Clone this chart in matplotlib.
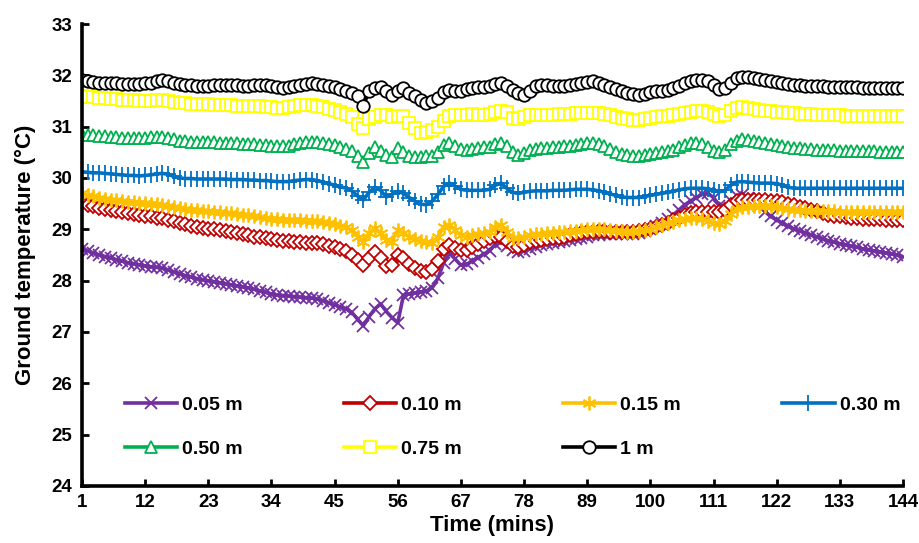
import matplotlib.pyplot as plt
import numpy as np

plt.rcParams['font.family'] = ['Liberation Sans', 'DejaVu Sans']
plt.rcParams['font.weight'] = 'bold'

# minutes 1..144
minutes = np.arange(1, 145)

depth_labels = ['0.05 m', '0.10 m', '0.15 m', '0.30 m', '0.50 m', '0.75 m', '1 m']

t_005 = [28.62, 28.58, 28.54, 28.50, 28.47, 28.44, 28.41, 28.38, 28.35, 28.33, 28.31, 28.29,
         28.27, 28.26, 28.24, 28.21, 28.17, 28.13, 28.10, 28.07, 28.04, 28.02, 28.00, 27.98,
         27.96, 27.94, 27.92, 27.90, 27.88, 27.86, 27.83, 27.80, 27.77, 27.74, 27.72, 27.71,
         27.70, 27.69, 27.68, 27.67, 27.66, 27.64, 27.61, 27.57, 27.53, 27.49, 27.45, 27.38,
         27.25, 27.12, 27.30, 27.45, 27.55, 27.40, 27.28, 27.18, 27.72, 27.74, 27.76, 27.78,
         27.80, 27.86, 28.05, 28.35, 28.54, 28.42, 28.30, 28.32, 28.38, 28.45, 28.52, 28.58,
         28.72, 28.75, 28.68, 28.60, 28.56, 28.58, 28.62, 28.66, 28.70, 28.72, 28.74, 28.76,
         28.78, 28.80, 28.82, 28.84, 28.86, 28.88, 28.89, 28.90, 28.90, 28.90, 28.90, 28.90,
         28.91, 28.93, 28.96, 29.00, 29.06, 29.12, 29.20, 29.28, 29.38, 29.48, 29.55, 29.62,
         29.68, 29.70, 29.62, 29.46, 29.42, 29.55, 29.65, 29.66, 29.62, 29.56, 29.46, 29.34,
         29.25, 29.18, 29.12, 29.06, 29.01, 28.97, 28.93, 28.89, 28.85, 28.81, 28.78, 28.75,
         28.72, 28.70, 28.67, 28.65, 28.62, 28.60, 28.58, 28.56, 28.54, 28.52, 28.50, 28.47]

t_010 = [29.52, 29.48, 29.45, 29.42, 29.40, 29.37, 29.35, 29.33, 29.31, 29.29, 29.27, 29.26,
         29.25, 29.23, 29.22, 29.19, 29.16, 29.13, 29.10, 29.07, 29.05, 29.03, 29.01, 29.00,
         28.98, 28.96, 28.94, 28.92, 28.90, 28.88, 28.86, 28.85, 28.83, 28.81, 28.80, 28.78,
         28.77, 28.76, 28.75, 28.74, 28.74, 28.73, 28.71, 28.68, 28.65, 28.61, 28.57, 28.50,
         28.40, 28.31, 28.45, 28.55, 28.45, 28.28, 28.30, 28.50, 28.45, 28.33, 28.24, 28.18,
         28.17, 28.22, 28.38, 28.62, 28.70, 28.64, 28.60, 28.60, 28.65, 28.72, 28.78, 28.83,
         28.87, 28.86, 28.78, 28.68, 28.66, 28.70, 28.75, 28.78, 28.80, 28.82, 28.83, 28.84,
         28.86, 28.88, 28.90, 28.92, 28.94, 28.95, 28.96, 28.96, 28.95, 28.95, 28.95, 28.95,
         28.95, 28.96, 28.98, 29.00, 29.04, 29.08, 29.13, 29.18, 29.23, 29.28, 29.32, 29.34,
         29.34, 29.34, 29.34, 29.33, 29.38, 29.48, 29.56, 29.58, 29.58, 29.58, 29.58, 29.57,
         29.56, 29.55, 29.53, 29.50, 29.47, 29.44, 29.41, 29.38, 29.35, 29.31, 29.28, 29.26,
         29.25, 29.24, 29.23, 29.22, 29.21, 29.21, 29.20, 29.20, 29.19, 29.19, 29.18, 29.18]

t_015 = [29.70, 29.67, 29.64, 29.62, 29.60, 29.58, 29.57, 29.55, 29.54, 29.53, 29.52, 29.51,
         29.50, 29.49, 29.48, 29.46, 29.44, 29.42, 29.40, 29.38, 29.37, 29.36, 29.35, 29.34,
         29.33, 29.32, 29.31, 29.29, 29.28, 29.27, 29.25, 29.24, 29.22, 29.21, 29.20, 29.19,
         29.19, 29.19, 29.18, 29.17, 29.17, 29.16, 29.14, 29.12, 29.10, 29.07, 29.04, 28.98,
         28.86, 28.76, 28.92, 29.03, 28.92, 28.80, 28.76, 28.98, 28.92, 28.86, 28.82, 28.78,
         28.76, 28.74, 28.86, 29.05, 29.09, 28.98, 28.88, 28.86, 28.88, 28.90, 28.92, 28.94,
         29.05, 29.09, 28.95, 28.84, 28.83, 28.85, 28.88, 28.90, 28.91, 28.92, 28.93, 28.94,
         28.95, 28.96, 28.97, 28.98, 29.00, 29.01, 29.01, 29.00, 28.99, 28.97, 28.96, 28.95,
         28.95, 28.96, 28.98, 29.00, 29.04, 29.08, 29.12, 29.15, 29.18, 29.21, 29.23, 29.22,
         29.20, 29.17, 29.12, 29.10, 29.16, 29.30, 29.40, 29.43, 29.44, 29.45, 29.45, 29.45,
         29.45, 29.44, 29.42, 29.40, 29.38, 29.37, 29.36, 29.36, 29.35, 29.35, 29.35, 29.35,
         29.34, 29.34, 29.34, 29.34, 29.34, 29.34, 29.34, 29.34, 29.34, 29.34, 29.34, 29.34]

t_030 = [30.12, 30.11, 30.10, 30.10, 30.09, 30.08, 30.07, 30.06, 30.05, 30.05, 30.04, 30.05,
         30.06, 30.08, 30.09, 30.07, 30.03, 30.00, 29.99, 29.99, 29.98, 29.98, 29.98, 29.98,
         29.98, 29.98, 29.97, 29.97, 29.97, 29.96, 29.96, 29.95, 29.95, 29.94, 29.93, 29.93,
         29.93, 29.95, 29.96, 29.97, 29.97, 29.95, 29.92, 29.89, 29.86, 29.83, 29.80, 29.75,
         29.65, 29.57, 29.72, 29.82, 29.76, 29.63, 29.68, 29.74, 29.70, 29.62, 29.55, 29.49,
         29.48, 29.55, 29.68, 29.84, 29.90, 29.84, 29.78, 29.76, 29.76, 29.76, 29.76, 29.78,
         29.86, 29.90, 29.80, 29.72, 29.70, 29.72, 29.74, 29.75, 29.75, 29.75, 29.76, 29.76,
         29.76, 29.77, 29.78, 29.78, 29.78, 29.77, 29.75, 29.72, 29.69, 29.66, 29.63, 29.62,
         29.62, 29.62, 29.64, 29.66, 29.68, 29.70, 29.72, 29.74, 29.77, 29.79, 29.80, 29.80,
         29.80, 29.79, 29.76, 29.73, 29.76, 29.86, 29.92, 29.93, 29.92, 29.91, 29.90, 29.90,
         29.90, 29.89, 29.86, 29.82, 29.80, 29.80, 29.80, 29.80, 29.80, 29.80, 29.80, 29.80,
         29.80, 29.80, 29.80, 29.80, 29.80, 29.80, 29.80, 29.80, 29.80, 29.80, 29.80, 29.80]

t_050 = [30.86, 30.84, 30.83, 30.82, 30.81, 30.80, 30.79, 30.78, 30.78, 30.77, 30.77, 30.78,
         30.79, 30.80, 30.79, 30.77, 30.75, 30.73, 30.72, 30.71, 30.70, 30.70, 30.70, 30.70,
         30.69, 30.69, 30.68, 30.68, 30.67, 30.66, 30.66, 30.65, 30.64, 30.63, 30.62, 30.62,
         30.63, 30.66, 30.68, 30.70, 30.71, 30.70, 30.68, 30.66, 30.64, 30.61, 30.57, 30.52,
         30.42, 30.32, 30.48, 30.60, 30.52, 30.45, 30.40, 30.58, 30.50, 30.42, 30.40, 30.41,
         30.42, 30.43, 30.50, 30.65, 30.69, 30.62, 30.56, 30.55, 30.57, 30.59, 30.60, 30.60,
         30.66, 30.69, 30.62, 30.50, 30.45, 30.48, 30.54, 30.57, 30.58, 30.59, 30.60, 30.61,
         30.62, 30.63, 30.64, 30.66, 30.68, 30.69, 30.67, 30.62, 30.56, 30.50, 30.46, 30.44,
         30.43, 30.43, 30.45, 30.47, 30.49, 30.50, 30.52, 30.55, 30.60, 30.65, 30.68, 30.69,
         30.66, 30.60, 30.52, 30.50, 30.54, 30.66, 30.73, 30.75, 30.74, 30.72, 30.70, 30.68,
         30.66, 30.65, 30.63, 30.61, 30.59, 30.58, 30.57, 30.56, 30.55, 30.55, 30.54, 30.54,
         30.53, 30.53, 30.53, 30.52, 30.52, 30.52, 30.52, 30.51, 30.51, 30.51, 30.51, 30.51]

t_075 = [31.60, 31.58, 31.57, 31.56, 31.55, 31.54, 31.53, 31.52, 31.52, 31.51, 31.50, 31.50,
         31.50, 31.51, 31.52, 31.50, 31.48, 31.47, 31.46, 31.45, 31.45, 31.44, 31.44, 31.43,
         31.43, 31.42, 31.42, 31.41, 31.41, 31.40, 31.40, 31.40, 31.39, 31.38, 31.37, 31.37,
         31.38, 31.40, 31.42, 31.43, 31.43, 31.41, 31.38, 31.35, 31.32, 31.28, 31.24, 31.18,
         31.05, 30.98, 31.15, 31.18, 31.22, 31.23, 31.18, 31.20, 31.20, 31.08, 30.98, 30.88,
         30.90, 30.94, 31.00, 31.12, 31.20, 31.22, 31.22, 31.23, 31.24, 31.23, 31.23, 31.24,
         31.28, 31.31, 31.28, 31.16, 31.14, 31.18, 31.22, 31.23, 31.22, 31.22, 31.23, 31.24,
         31.24, 31.25, 31.26, 31.26, 31.27, 31.27, 31.26, 31.24, 31.22, 31.19, 31.16, 31.14,
         31.13, 31.13, 31.15, 31.17, 31.19, 31.20, 31.21, 31.23, 31.25, 31.27, 31.29, 31.30,
         31.30, 31.28, 31.24, 31.20, 31.22, 31.30, 31.36, 31.38, 31.37, 31.35, 31.33, 31.31,
         31.30, 31.29, 31.28, 31.27, 31.26, 31.25, 31.24, 31.24, 31.23, 31.23, 31.22, 31.22,
         31.22, 31.21, 31.21, 31.21, 31.21, 31.20, 31.20, 31.20, 31.20, 31.20, 31.20, 31.20]

t_100 = [31.90, 31.88, 31.87, 31.86, 31.86, 31.85, 31.85, 31.84, 31.84, 31.83, 31.84, 31.85,
         31.86, 31.88, 31.90, 31.88, 31.85, 31.83, 31.82, 31.81, 31.80, 31.80, 31.80, 31.81,
         31.81, 31.82, 31.82, 31.81, 31.80, 31.80, 31.81, 31.82, 31.81, 31.79, 31.77, 31.76,
         31.77, 31.79, 31.81, 31.83, 31.85, 31.84, 31.82, 31.80, 31.77, 31.73, 31.70, 31.66,
         31.60, 31.40, 31.70, 31.76, 31.78, 31.70, 31.62, 31.70, 31.76, 31.66, 31.60, 31.52,
         31.47, 31.50, 31.56, 31.68, 31.72, 31.70, 31.70, 31.73, 31.76, 31.77, 31.78, 31.79,
         31.84, 31.86, 31.80, 31.72, 31.66, 31.62, 31.70, 31.80, 31.82, 31.81, 31.80, 31.80,
         31.80, 31.82, 31.83, 31.85, 31.87, 31.88, 31.86, 31.82, 31.78, 31.74, 31.70, 31.66,
         31.63, 31.62, 31.64, 31.68, 31.70, 31.70, 31.72, 31.75, 31.80, 31.85, 31.88, 31.90,
         31.90, 31.88, 31.82, 31.74, 31.76, 31.86, 31.94, 31.97, 31.96, 31.94, 31.92, 31.90,
         31.88, 31.87, 31.85, 31.84, 31.82, 31.81, 31.80, 31.80, 31.79, 31.79, 31.78, 31.78,
         31.78, 31.77, 31.77, 31.77, 31.76, 31.76, 31.76, 31.76, 31.76, 31.76, 31.76, 31.76]

series = [t_005, t_010, t_015, t_030, t_050, t_075, t_100]
colors = ['#7030A0', '#C00000', '#FFC000', '#0070C0', '#00B050', '#FFFF00', '#000000']
markers = ['x', 'D', (6, 2, 0), '+', '^', 's', 'o']
sizes = [9, 7, 10, 11, 9, 8.5, 9]

xticks = list(range(1, 145, 11))

fig = plt.figure(figsize=(9.19, 5.43), dpi=100)
ax = fig.add_axes([0.0892, 0.105, 0.8934, 0.8508])

handles = []
for vals, lab, c, m, s in zip(series, depth_labels, colors, markers, sizes):
    h, = ax.plot(minutes, vals, color=c, lw=2.6, marker=m, markersize=s,
                 markerfacecolor='white', markeredgecolor=c, markeredgewidth=1.3,
                 label=lab)
    handles.append(h)

ax.set_xlim(1, 144)
ax.set_ylim(24, 33)
ax.set_xticks(xticks)
ax.set_yticks(range(24, 34))

for side in ['top', 'right']:
    ax.spines[side].set_visible(False)
for side in ['left', 'bottom']:
    ax.spines[side].set_linewidth(2.6)

ax.tick_params(direction='in', length=5, width=2, labelsize=13.5)
ax.tick_params(axis='y', pad=7)
ax.tick_params(axis='x', pad=6)
for lbl in ax.get_xticklabels() + ax.get_yticklabels():
    lbl.set_fontweight('bold')

ax.set_xlabel('Time (mins)', fontsize=16, fontweight='bold', labelpad=3)
ax.set_ylabel('Ground temperature (°C)', fontsize=16, fontweight='bold', labelpad=11)

# matplotlib fills legend columns first, so reorder to get row order
order = [0, 4, 1, 5, 2, 6, 3]
ax.legend([handles[i] for i in order], [depth_labels[i] for i in order],
          ncol=4, loc='upper left', bbox_to_anchor=(0.052, 0.195),
          frameon=False, prop={'size': 14, 'weight': 'bold'},
          handlelength=2.7, handletextpad=0.25, columnspacing=5.2,
          labelspacing=1.36, borderpad=0, borderaxespad=0)

plt.savefig('out.png', dpi=100)
